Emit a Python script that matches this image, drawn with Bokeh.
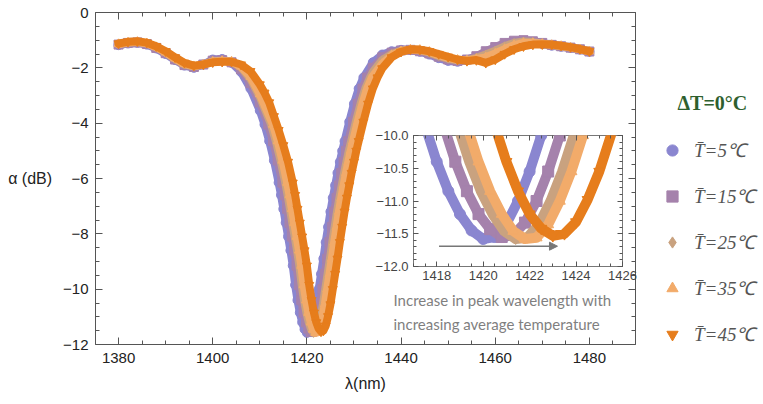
from bokeh.plotting import figure
from bokeh.models import (Range1d, LinearAxis, SingleIntervalTicker, Legend, LegendItem,
                          Label, Arrow, NormalHead, CustomJSTickFormatter)
from bokeh.embed import file_html
from bokeh.resources import INLINE

# ---------------- data ----------------
labels = ["T\u0304=5\u2103", "T\u0304=15\u2103", "T\u0304=25\u2103", "T\u0304=35\u2103", "T\u0304=45\u2103"]
colors = ["#8a86d0", "#a582ac", "#c9a27f", "#f2ab6a", "#e67d1c"]
markers = ["circle", "square", "diamond", "triangle", "inverted_triangle"]

lam_5 = [1380, 1382, 1384, 1386, 1388, 1390, 1392, 1394, 1396, 1398, 1400, 1402, 1404, 1406, 1408, 1410,
         1411, 1412, 1413,
         1414, 1414.5, 1415, 1415.5, 1416, 1416.5, 1417, 1417.5, 1418, 1418.5, 1419, 1419.5, 1420, 1420.5,
         1421, 1421.5, 1422, 1422.5, 1423, 1423.5, 1424, 1424.5, 1425, 1425.5, 1426, 1426.5, 1427, 1427.5, 1428,
         1429, 1430, 1431, 1432,
         1434, 1436, 1438, 1440, 1442, 1444, 1446, 1448, 1450, 1452, 1454, 1456, 1458, 1460, 1462, 1464, 1466,
         1468, 1470, 1472, 1474, 1476, 1478, 1480]
a_5 = [-1.18, -1.12, -1.10, -1.16, -1.30, -1.50, -1.72, -1.92, -2.00, -1.88, -1.70, -1.68, -1.82, -2.15, -2.75, -3.55,
       -4.05, -4.65, -5.35,
       -6.15, -6.6, -7.1, -7.6, -8.1, -8.6, -9.15, -9.85, -10.4, -10.85, -11.2, -11.45, -11.58, -11.55,
       -11.35, -11.0, -10.55, -10.0, -9.45, -8.9, -8.3, -7.75, -7.2, -6.7, -6.25, -5.8, -5.4, -5.0, -4.65,
       -3.95, -3.3, -2.75, -2.35,
       -1.8, -1.52, -1.4, -1.35, -1.36, -1.42, -1.52, -1.65, -1.75, -1.78, -1.72, -1.6, -1.45, -1.3, -1.18, -1.08, -1.05,
       -1.08, -1.14, -1.2, -1.24, -1.28, -1.34, -1.42]

lam_15 = [1380, 1382, 1384, 1386, 1388, 1390, 1392, 1394, 1396, 1398, 1400, 1402, 1404, 1406, 1408, 1410,
          1411.8, 1412.8, 1413.8,
          1414.8, 1415.3, 1415.8, 1416.3, 1416.8, 1417.3, 1417.8, 1418.3, 1418.8, 1419.3, 1419.8, 1420.3, 1420.8,
          1421.3, 1421.8, 1422.3, 1422.8, 1423.3, 1423.8, 1424.3, 1424.8, 1425.3, 1425.8, 1426.3, 1426.8, 1427.3,
          1427.8, 1428.3, 1428.8,
          1429.8, 1430.8, 1431.8, 1432.8,
          1434, 1436, 1438, 1440, 1442, 1444, 1446, 1448, 1450, 1452, 1454, 1456, 1458, 1460, 1462, 1464, 1466,
          1468, 1470, 1472, 1474, 1476, 1478, 1480]
a_15 = [-1.16, -1.10, -1.08, -1.14, -1.28, -1.47, -1.70, -1.90, -1.97, -1.88, -1.74, -1.72, -1.80, -2.05, -2.55, -3.25,
        -4.05, -4.65, -5.35,
        -6.15, -6.6, -7.1, -7.6, -8.1, -8.6, -9.15, -9.85, -10.4, -10.85, -11.2, -11.43, -11.55,
        -11.52, -11.33, -11.0, -10.55, -10.0, -9.45, -8.9, -8.3, -7.75, -7.2, -6.7, -6.25, -5.8,
        -5.4, -5.0, -4.65,
        -3.95, -3.3, -2.75, -2.35,
        -2.0, -1.62, -1.45, -1.37, -1.35, -1.4, -1.48, -1.6, -1.7, -1.75, -1.7, -1.58, -1.4, -1.25, -1.1, -1.02, -1.0,
        -1.04, -1.1, -1.17, -1.22, -1.27, -1.33, -1.41]

lam_25 = [1380, 1382, 1384, 1386, 1388, 1390, 1392, 1394, 1396, 1398, 1400, 1402, 1404, 1406, 1408, 1410,
          1412.4, 1413.4, 1414.4,
          1415.4, 1415.9, 1416.4, 1416.9, 1417.4, 1417.9, 1418.4, 1418.9, 1419.4, 1419.9, 1420.4, 1420.9, 1421.4,
          1421.9, 1422.4, 1422.9, 1423.4, 1423.9, 1424.4, 1424.9, 1425.4, 1425.9, 1426.4, 1426.9, 1427.4, 1427.9,
          1428.4, 1428.9, 1429.4,
          1430.4, 1431.4, 1432.4, 1433.4,
          1434, 1436, 1438, 1440, 1442, 1444, 1446, 1448, 1450, 1452, 1454, 1456, 1458, 1460, 1462, 1464, 1466,
          1468, 1470, 1472, 1474, 1476, 1478, 1480]
a_25 = [-1.15, -1.09, -1.07, -1.12, -1.26, -1.45, -1.68, -1.88, -1.95, -1.88, -1.76, -1.74, -1.78, -1.98, -2.40, -3.05,
        -4.05, -4.65, -5.35,
        -6.15, -6.6, -7.1, -7.6, -8.1, -8.6, -9.15, -9.85, -10.4, -10.85, -11.2, -11.46, -11.58,
        -11.56, -11.36, -11.0, -10.55, -10.0, -9.45, -8.9, -8.3, -7.75, -7.2, -6.7, -6.25, -5.8,
        -5.4, -5.0, -4.65,
        -3.95, -3.3, -2.75, -2.35,
        -2.15, -1.72, -1.5, -1.38, -1.34, -1.37, -1.45, -1.57, -1.67, -1.73, -1.72, -1.64, -1.52, -1.38, -1.22, -1.1, -1.05,
        -1.07, -1.12, -1.18, -1.22, -1.27, -1.33, -1.4]

lam_35 = [1380, 1382, 1384, 1386, 1388, 1390, 1392, 1394, 1396, 1398, 1400, 1402, 1404, 1406, 1408, 1410,
          1412.8, 1413.8, 1414.8,
          1415.8, 1416.3, 1416.8, 1417.3, 1417.8, 1418.3, 1418.8, 1419.3, 1419.8, 1420.3, 1420.8, 1421.3, 1421.8,
          1422.3, 1422.8, 1423.3, 1423.8, 1424.3, 1424.8, 1425.3, 1425.8, 1426.3, 1426.8, 1427.3, 1427.8, 1428.3,
          1428.8, 1429.3, 1429.8,
          1430.8, 1431.8, 1432.8, 1433.8,
          1436, 1438, 1440, 1442, 1444, 1446, 1448, 1450, 1452, 1454, 1456, 1458, 1460, 1462, 1464, 1466,
          1468, 1470, 1472, 1474, 1476, 1478, 1480]
a_35 = [-1.14, -1.08, -1.06, -1.11, -1.25, -1.44, -1.66, -1.86, -1.94, -1.88, -1.78, -1.75, -1.77, -1.95, -2.32, -2.95,
        -4.05, -4.65, -5.35,
        -6.15, -6.6, -7.1, -7.6, -8.1, -8.6, -9.15, -9.85, -10.4, -10.85, -11.2, -11.46, -11.58,
        -11.56, -11.36, -11.0, -10.55, -10.0, -9.45, -8.9, -8.3, -7.75, -7.2, -6.7, -6.25, -5.8,
        -5.4, -5.0, -4.65,
        -3.95, -3.3, -2.75, -2.35,
        -1.85, -1.55, -1.4, -1.34, -1.35, -1.42, -1.54, -1.64, -1.71, -1.73, -1.68, -1.62, -1.48, -1.32, -1.18, -1.1,
        -1.1, -1.13, -1.17, -1.21, -1.26, -1.33, -1.4]

lam_45 = [1380, 1382, 1384, 1386, 1388, 1390, 1392, 1394, 1396, 1398, 1400, 1402, 1404, 1406, 1408, 1410, 1411,
          1412, 1413, 1414, 1415, 1416, 1417,
          1417.5, 1418, 1418.5, 1419, 1419.5, 1420, 1420.5, 1421, 1421.5, 1422, 1422.5, 1423, 1423.5, 1424,
          1424.5, 1425, 1425.5, 1426, 1426.5, 1427, 1427.5, 1428, 1428.5, 1429, 1429.5, 1430, 1430.5, 1431,
          1432, 1433, 1434, 1435,
          1436, 1438, 1440, 1442, 1444, 1446, 1448, 1450, 1452, 1454, 1456, 1458, 1460, 1462, 1464, 1466,
          1468, 1470, 1472, 1474, 1476, 1478, 1480]
a_45 = [-1.12, -1.06, -1.04, -1.09, -1.22, -1.40, -1.62, -1.82, -1.92, -1.88, -1.80, -1.78, -1.78, -1.88, -2.12, -2.6, -2.9,
        -3.25, -3.75, -4.25, -4.8, -5.4, -6.15,
        -6.6, -7.1, -7.6, -8.1, -8.6, -9.15, -9.85, -10.4, -10.85, -11.2, -11.42, -11.53, -11.5, -11.32,
        -10.98, -10.55, -10.0, -9.45, -8.9, -8.3, -7.75, -7.2, -6.7, -6.25, -5.8, -5.4, -5.0, -4.65,
        -3.95, -3.3, -2.75, -2.35,
        -2.02, -1.62, -1.42, -1.33, -1.34, -1.4, -1.5, -1.6, -1.7, -1.75, -1.72, -1.82, -1.7, -1.5, -1.33, -1.22,
        -1.16, -1.15, -1.16, -1.2, -1.25, -1.32, -1.40]

series_x = [lam_5, lam_15, lam_25, lam_35, lam_45]
series_y = [a_5, a_15, a_25, a_35, a_45]

main_xticks_interval = 20
main_yticks_interval = 2
inset_xticks_interval = 2
inset_yticks_interval = 0.5

legend_title = "\u0394T=0\u00b0C"
caption = "Increase in peak wavelength with\nincreasing average temperature"
x_label = "\u03bb(nm)"
y_label = "\u03b1 (dB)"

# ---------------- helpers ----------------
minus_fmt0 = CustomJSTickFormatter(code="return (tick < 0 ? '\\u2212' : '') + Math.abs(tick).toFixed(0);")
minus_fmt1 = CustomJSTickFormatter(code="return (tick < 0 ? '\\u2212' : '') + Math.abs(tick).toFixed(1);")
blank_fmt = CustomJSTickFormatter(code="return '';")
AXIS_COLOR = "#555555"
FONT = "Liberation Sans"


def style_axis(ax, tick_in, minor_in, label_size, label_color, hide_labels=False):
    ax.axis_line_color = None
    ax.major_tick_in = tick_in
    ax.major_tick_out = 0
    ax.minor_tick_in = minor_in
    ax.minor_tick_out = 0
    ax.major_tick_line_color = AXIS_COLOR
    ax.minor_tick_line_color = AXIS_COLOR
    ax.major_label_text_font = FONT
    ax.major_label_text_font_size = label_size
    ax.major_label_text_color = label_color
    if hide_labels:
        ax.formatter = blank_fmt
        ax.major_label_standoff = 0


# ---------------- main figure ----------------
p = figure(frame_width=540, frame_height=332, output_backend="svg", toolbar_location=None,
           x_range=Range1d(1375.1, 1489.8), y_range=Range1d(-12, 0),
           min_border_left=95, min_border_right=6, min_border_top=12, min_border_bottom=50)
p.grid.visible = False
p.outline_line_color = AXIS_COLOR
p.outline_line_width = 1
p.background_fill_color = "white"

xt = SingleIntervalTicker(interval=main_xticks_interval, num_minor_ticks=4)
yt = SingleIntervalTicker(interval=main_yticks_interval, num_minor_ticks=4)
p.xaxis.ticker = xt
p.yaxis.ticker = yt
p.yaxis.formatter = minus_fmt0
for ax in p.xaxis + p.yaxis:
    style_axis(ax, 7, 4, "15px", "#222222")
p.xaxis.major_label_standoff = 8
p.yaxis.major_label_standoff = 7
p.xaxis.axis_label = x_label
p.yaxis.axis_label = y_label
p.yaxis.axis_label_orientation = "horizontal"
for ax in p.xaxis + p.yaxis:
    ax.axis_label_text_font = FONT
    ax.axis_label_text_font_size = "16px"
    ax.axis_label_text_font_style = "normal"
    ax.axis_label_text_color = "#222222"
p.xaxis.axis_label_standoff = 9
p.yaxis.axis_label_standoff = 8

top_ax = LinearAxis(ticker=xt)
right_ax = LinearAxis(ticker=yt)
style_axis(top_ax, 7, 4, "15px", "#222222", hide_labels=True)
style_axis(right_ax, 7, 4, "15px", "#222222", hide_labels=True)
p.add_layout(top_ax, "above")
p.add_layout(right_ax, "right")

for xs, ys, c, m in zip(series_x, series_y, colors, markers):
    p.line(xs, ys, line_width=8, color=c, line_join="round", line_cap="round")
    p.scatter(xs, ys, marker=m, size=9, fill_color=c, line_color=c)

p.add_layout(Label(x=1438.4, y=-10.08, text=caption, text_font="Lato", text_font_size="15px",
                   text_color="#7f7f7f", text_align="left", text_baseline="top", text_line_height=1.33))

# ---------------- inset figure ----------------
inset = figure(width=280, height=164, output_backend="svg", toolbar_location=None,
               x_range=Range1d(1417, 1426), y_range=Range1d(-12, -10),
               min_border_left=53, min_border_right=18, min_border_top=9, min_border_bottom=24,
               styles={"position": "absolute", "left": "360px", "top": "126px"})
inset.background_fill_alpha = 0
inset.border_fill_alpha = 0
inset.grid.visible = False
inset.outline_line_color = "#777777"
ixt = SingleIntervalTicker(interval=inset_xticks_interval, num_minor_ticks=4)
iyt = SingleIntervalTicker(interval=inset_yticks_interval, num_minor_ticks=5)
inset.xaxis.ticker = ixt
inset.yaxis.ticker = iyt
inset.yaxis.formatter = minus_fmt1
for ax in inset.xaxis + inset.yaxis:
    style_axis(ax, 5, 3, "13px", "#444444")
inset.xaxis.major_label_standoff = 4
inset.yaxis.major_label_standoff = 5
itop = LinearAxis(ticker=ixt)
iright = LinearAxis(ticker=iyt)
style_axis(itop, 5, 3, "13px", "#444444", hide_labels=True)
style_axis(iright, 5, 3, "13px", "#444444", hide_labels=True)
inset.add_layout(itop, "above")
inset.add_layout(iright, "right")

for xs, ys, c, m in zip(series_x, series_y, colors, markers):
    inset.line(xs, ys, line_width=10, color=c, line_join="round", line_cap="round")
    inset.scatter(xs, ys, marker=m, size=11, fill_color=c, line_color=c)

inset.add_layout(Arrow(x_start=1418.1, y_start=-11.69, x_end=1423.2, y_end=-11.69,
                       line_color="#777777", line_width=1.5,
                       end=NormalHead(size=8, fill_color="#777777", line_color="#777777")))

# ---------------- legend figure (series drawn outside its view; only the legend shows) ----------------
LF_W, LF_H = 104, 263
lf = figure(width=LF_W, height=LF_H, output_backend="svg", toolbar_location=None,
            x_range=Range1d(0, LF_W), y_range=Range1d(0, LF_H), x_axis_type=None, y_axis_type=None,
            min_border=0, styles={"position": "absolute", "left": "658px", "top": "85px"})
lf.outline_line_color = None
lf.background_fill_alpha = 0
lf.border_fill_alpha = 0
lf.grid.visible = False
leg_renderers = []
for xs, ys, c, m in zip(series_x, series_y, colors, markers):
    leg_renderers.append(lf.scatter(xs, ys, marker=m, size=9, fill_color=c, line_color=c))

legend = Legend(items=[LegendItem(label=lab, renderers=[r]) for lab, r in zip(labels, leg_renderers)],
                location=(0, 0), orientation="vertical")
legend.border_line_color = None
legend.background_fill_alpha = 0
legend.label_text_font = "Liberation Serif"
legend.label_text_font_style = "italic"
legend.label_text_font_size = "19px"
legend.label_text_color = "#555555"
legend.glyph_width = 28
legend.glyph_height = 28
legend.label_height = 28
legend.spacing = 18
legend.padding = 3
legend.margin = 0
legend.label_standoff = 8
lf.add_layout(legend, "center")

lf.add_layout(Label(x=19, y=LF_H - 17, text=legend_title, text_font="Liberation Serif",
                    text_font_style="bold", text_font_size="20px", text_color="#2e5f2e",
                    text_align="left", text_baseline="middle"))

open("out.html", "w").write(file_html([p, inset, lf], INLINE))
